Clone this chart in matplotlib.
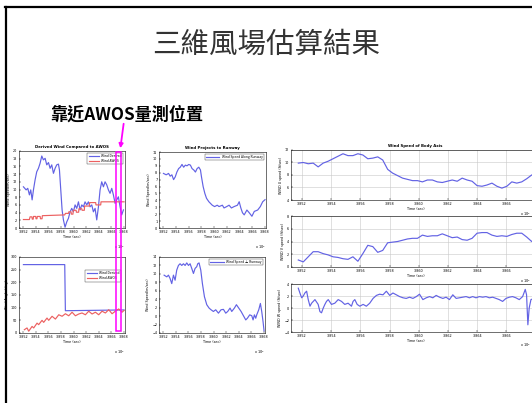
import matplotlib
matplotlib.use('Agg')
import matplotlib.pyplot as plt
from matplotlib.patches import Rectangle, FancyArrowPatch
from matplotlib.lines import Line2D
from matplotlib.transforms import blended_transform_factory
from matplotlib.ticker import FuncFormatter

plt.rcParams['font.family'] = ['Noto Sans CJK TC', 'DejaVu Sans']

# ---- derived wind vs AWOS (speed) ----
t_derived = [385205, 385248, 385274, 385300, 385321, 385343, 385364, 385390, 385416, 385443,
             385469, 385496, 385522, 385549, 385575, 385602, 385628, 385654, 385681, 385707,
             385733, 385760, 385776, 385797, 385818, 385839, 385865, 385892, 385918, 385945,
             385971, 385997, 386024, 386050, 386077, 386103, 386130, 386156, 386182, 386209,
             386235, 386261, 386288, 386314, 386341, 386367, 386394, 386420, 386446, 386473,
             386499, 386526, 386552, 386578, 386605, 386631, 386658, 386684, 386710, 386737,
             386763, 386790]
spd_derived = [10.7, 9.9, 10.3, 8.6, 9.9, 7.3, 9.9, 12.5, 14.6, 15.5,
               16.8, 18.7, 17.7, 18.1, 16.4, 17.0, 15.5, 16.4, 14.2, 15.5,
               16.4, 16.6, 15.1, 9.9, 4.7, 2.1, 0.2, 1.6, 2.5, 4.2,
               5.1, 4.2, 6.0, 5.1, 6.8, 4.7, 6.0, 5.5, 6.8, 6.0,
               6.8, 5.5, 6.0, 4.2, 5.1, 2.1, 5.5, 9.9, 12.0, 10.7,
               12.0, 11.2, 9.9, 9.0, 10.3, 8.6, 6.4, 7.3, 8.1, 5.5,
               3.4, 4.7]

t_awos = [385205, 385300, 385310, 385340, 385345, 385360, 385365, 385400, 385405, 385420,
          385425, 385470, 385475, 385500, 385505, 385860, 385870, 385920, 385925, 385960,
          385965, 385990, 385995, 386040, 386045, 386080, 386085, 386130, 386135, 386170,
          386175, 386250, 386255, 386350, 386355, 386430, 386435, 386800]
spd_awos = [2.2, 2.2, 2.9, 2.9, 2.3, 2.3, 3.0, 3.0, 2.4, 2.4,
            3.0, 3.0, 2.4, 2.4, 3.2, 3.4, 3.8, 3.8, 4.2, 4.2,
            3.6, 3.6, 4.6, 4.6, 4.1, 4.1, 5.0, 5.0, 4.6, 4.6,
            5.7, 5.7, 6.6, 6.6, 6.0, 6.0, 6.8, 6.8]

# ---- derived wind vs AWOS (direction) ----
t_dir_derived = [385205, 385860, 385870, 386800]
dir_derived = [270, 270, 88, 91]

t_dir_awos = [385220, 385262, 385289, 385342, 385368, 385421, 385447, 385500, 385526, 385579,
              385606, 385659, 385712, 385765, 385818, 385870, 385923, 385976, 386029, 386082,
              386134, 386187, 386240, 386293, 386346, 386398, 386451, 386504, 386557, 386610,
              386662, 386715, 386768, 386800]
dir_awos = [13, 20, 7, 26, 20, 39, 33, 50, 42, 59,
            50, 66, 55, 72, 66, 76, 68, 82, 68, 75,
            79, 72, 86, 75, 82, 72, 86, 79, 92, 76,
            86, 95, 82, 89]

# ---- wind projected to runway ----
t_rwy = [385205, 385248, 385285, 385311, 385337, 385364, 385390, 385416, 385443, 385469,
         385496, 385522, 385549, 385575, 385602, 385628, 385654, 385681, 385707, 385733,
         385760, 385786, 385802, 385828, 385855, 385881, 385918, 385971, 386008, 386050,
         386077, 386130, 386156, 386198, 386235, 386272, 386314, 386367, 386394, 386420,
         386446, 386473, 386515, 386552, 386594, 386631, 386684, 386726, 386763, 386800]
spd_along = [7.9, 7.7, 7.9, 7.5, 7.7, 7.0, 7.4, 8.1, 8.6, 8.8,
             9.2, 8.8, 9.1, 9.0, 9.2, 9.1, 8.6, 8.4, 8.1, 8.6,
             8.8, 8.4, 7.4, 6.0, 5.0, 4.3, 3.8, 3.3, 3.1, 3.3,
             3.1, 3.3, 2.9, 3.1, 3.3, 2.9, 3.1, 3.3, 3.8, 2.9,
             2.2, 1.9, 2.6, 2.2, 1.7, 2.4, 2.6, 3.1, 3.8, 4.1]

t_cross = [385216, 385258, 385285, 385311, 385337, 385364, 385390, 385416, 385443, 385469,
           385496, 385522, 385549, 385575, 385602, 385628, 385654, 385681, 385707, 385733,
           385749, 385770, 385797, 385823, 385855, 385892, 385929, 385960, 385997, 386034,
           386077, 386118, 386156, 386193, 386224, 386261, 386288, 386309, 386330, 386362,
           386399, 386436, 386473, 386510, 386536, 386573, 386605, 386626, 386647, 386668,
           386684, 386716, 386742, 386763, 386784, 386800]
spd_cross = [9.7, 9.3, 9.7, 8.9, 7.7, 9.7, 8.5, 10.9, 12.0, 12.4,
             12.0, 12.4, 12.0, 12.6, 12.0, 12.4, 11.3, 10.1, 11.3, 11.7,
             12.4, 12.6, 10.9, 7.7, 4.6, 2.7, 1.9, 1.5, 1.1, 1.5,
             0.7, 1.5, 1.6, 0.7, 1.1, 1.9, 1.1, 1.5, 1.9, 2.7,
             1.9, 1.1, 0.1, -0.9, -0.5, 0.3, 0.1, -0.9, 0.3, -0.5,
             0.3, 1.5, 3.0, 1.1, -1.3, -3.5]

# ---- body-axis wind components ----
t_body = [385175, 385209, 385243, 385277, 385311, 385345, 385379, 385413, 385447, 385481,
          385515, 385549, 385583, 385617, 385651, 385685, 385719, 385753, 385787, 385821,
          385855, 385889, 385923, 385957, 385991, 386025, 386059, 386093, 386127, 386161,
          386195, 386229, 386263, 386297, 386331, 386365, 386399, 386433, 386467, 386501,
          386535, 386569, 386603, 386637, 386671, 386705, 386739, 386773, 386807]
wind_u = [9.9, 10.0, 9.8, 9.9, 9.3, 9.9, 10.2, 10.6, 11.0, 11.4,
          11.1, 11.1, 11.4, 11.2, 10.6, 10.7, 10.9, 10.4, 8.9, 8.3,
          7.9, 7.5, 7.3, 7.1, 7.1, 6.9, 7.2, 7.2, 6.9, 6.8,
          7.0, 7.2, 7.0, 7.5, 7.2, 7.0, 6.3, 6.2, 6.4, 6.7,
          6.2, 5.9, 6.2, 6.9, 6.7, 6.9, 7.4, 8.0, 8.3]
wind_v = [1.1, 0.8, 1.6, 2.4, 2.4, 2.1, 1.9, 1.6, 1.5, 1.3,
          1.2, 1.6, 0.9, 2.1, 3.4, 3.2, 2.3, 2.6, 3.8, 3.9,
          4.0, 4.2, 4.4, 4.5, 4.5, 5.0, 4.8, 4.9, 4.9, 5.2,
          4.9, 4.6, 4.7, 4.3, 4.2, 4.5, 5.3, 5.4, 5.4, 5.0,
          4.8, 4.9, 4.8, 5.1, 5.3, 5.3, 4.7, 4.0, 4.6]

t_w = [385175, 385186, 385198, 385209, 385220, 385232, 385243, 385255, 385266, 385289,
       385311, 385323, 385334, 385346, 385357, 385368, 385380, 385402, 385425, 385448,
       385471, 385493, 385516, 385539, 385550, 385562, 385578, 385596, 385619, 385641,
       385664, 385687, 385710, 385732, 385755, 385778, 385801, 385823, 385846, 385869,
       385892, 385914, 385937, 385960, 385983, 386005, 386028, 386051, 386074, 386096,
       386119, 386142, 386165, 386187, 386210, 386233, 386256, 386278, 386301, 386324,
       386347, 386369, 386392, 386415, 386438, 386460, 386483, 386506, 386529, 386551,
       386574, 386597, 386620, 386642, 386665, 386688, 386711, 386729, 386738, 386747,
       386756, 386768, 386790]
wind_w = [3.3, 2.5, 1.7, 2.0, 2.5, 2.8, 1.4, 0.3, 0.8, 1.4,
          0.6, -0.6, -0.8, 0.0, 0.6, 1.1, 1.4, 0.6, 0.8, 1.4,
          1.1, 0.6, 0.8, 0.3, 1.1, 1.4, 0.6, 0.3, 0.6, 0.3,
          0.8, 1.6, 2.1, 2.3, 2.2, 2.8, 2.1, 2.5, 2.2, 1.9,
          1.7, 1.6, 1.8, 1.6, 1.9, 2.3, 1.4, 1.7, 1.9, 1.7,
          2.1, 1.8, 1.6, 1.8, 1.4, 2.2, 1.6, 1.7, 1.8, 1.9,
          1.7, 1.9, 1.7, 1.9, 1.8, 1.9, 1.7, 1.8, 1.6, 1.4,
          1.1, 1.6, 1.8, 1.9, 1.7, 1.4, 1.9, 3.1, 2.2, -2.8,
          0.0, 1.4, 1.6]

time_ticks = [385200, 385400, 385600, 385800, 386000, 386200, 386400, 386600, 386800]

BLUE = '#6262e4'
RED = '#ec6060'
MAGENTA = '#ff00ff'
SMALL = 2.4
W, H = 532, 403


def px_box(x0, y0, x1, y1):
    return [x0 / W, 1 - y1 / H, (x1 - x0) / W, (y1 - y0) / H]


def setup(ax, xlim, ylim, yticks, ylabel, title=None, grid=False, xticks=time_ticks,
          offset_at_edge=False):
    ax.set_xlim(*xlim)
    ax.set_ylim(*ylim)
    ax.set_xticks(xticks)
    ax.set_yticks(yticks)
    ax.xaxis.set_major_formatter(FuncFormatter(lambda v, p: f"{v / 1e5:.3f}"))
    ax.tick_params(direction='in', length=1.5, width=0.3, labelsize=SMALL, pad=1.2)
    for lbl in ax.get_xticklabels() + ax.get_yticklabels():
        lbl.set_family('DejaVu Sans')
    for s in ax.spines.values():
        s.set_linewidth(0.4)
    ax.set_xlabel('Time (sec)', fontsize=SMALL, labelpad=0.8, family='DejaVu Sans')
    ax.set_ylabel(ylabel, fontsize=SMALL, labelpad=1.5, family='DejaVu Sans')
    if offset_at_edge:
        # axes run past the slide edge, keep the exponent label on the slide
        tr = blended_transform_factory(fig.transFigure, ax.transAxes)
        ax.text(531 / W, -0.2, r'x 10$^5$', transform=tr, fontsize=SMALL,
                ha='right', va='top', family='DejaVu Sans')
    else:
        ax.text(1.0, -0.2, r'x 10$^5$', transform=ax.transAxes, fontsize=SMALL,
                ha='right', va='top', family='DejaVu Sans')
    if title:
        ax.set_title(title, fontsize=2.8, fontweight='bold', pad=2, family='DejaVu Sans')
    if grid:
        ax.grid(True, color='#c8c8c8', linewidth=0.4)
        ax.set_axisbelow(True)


fig = plt.figure(figsize=(W / 100, H / 100), dpi=100)
fig.patch.set_facecolor('white')

# slide frame (top and left edges)
fig.add_artist(Line2D([5 / W, 1.0], [1 - 6.5 / H, 1 - 6.5 / H], color='black', lw=1.6,
                      transform=fig.transFigure))
fig.add_artist(Line2D([6 / W, 6 / W], [0, 1 - 6.5 / H], color='black', lw=1.6,
                      transform=fig.transFigure))

fig.text(0.5, 1 - 45 / H, '三維風場估算結果', fontsize=20.5, color='#333333',
         ha='center', va='center', family=['Noto Sans CJK TC', 'DejaVu Sans'])
fig.text(50 / W, 1 - 115 / H, '靠近AWOS量測位置', fontsize=12.3, fontweight='heavy',
         color='black', ha='left', va='center', family=['Noto Sans CJK TC', 'DejaVu Sans'])

lr_xlim = (385135, 386815)
leg_kw = dict(loc='upper right', fontsize=SMALL, frameon=True, edgecolor='black',
              fancybox=False, borderpad=0.4, labelspacing=0.3)

# derived wind speed vs AWOS
ax1 = fig.add_axes(px_box(19, 151, 125, 228))
ax1.plot(t_derived, spd_derived, color=BLUE, lw=0.85, label='Wind Derived')
ax1.plot(t_awos, spd_awos, color=RED, lw=0.85, label='Wind AWOS')
setup(ax1, lr_xlim, (0, 20), range(0, 21, 2), 'Wind Speed(m/sec)',
      title='Derived Wind Compared to AWOS')
ax1.legend(handlelength=3, **leg_kw).get_frame().set_linewidth(0.3)

# derived wind direction vs AWOS
ax2 = fig.add_axes(px_box(19, 257, 125, 333))
ax2.plot(t_dir_derived, dir_derived, color=BLUE, lw=0.85, label='Wind Derived')
ax2.plot(t_dir_awos, dir_awos, color=RED, lw=0.85, label='Wind AWOS')
setup(ax2, lr_xlim, (0, 300), range(0, 301, 50), 'Wind Angle (deg)')
ax2.legend(handlelength=3, bbox_to_anchor=(0.98, 0.85), **leg_kw).get_frame().set_linewidth(0.3)

# along-runway component
ax3 = fig.add_axes(px_box(159, 152, 266, 228))
ax3.plot(t_rwy, spd_along, color=BLUE, lw=0.85, label='Wind Speed Along Runway')
setup(ax3, lr_xlim, (0, 11), range(0, 12), 'Wind Speed(m/sec)',
      title='Wind Projects to Runway')
ax3.legend(handlelength=4, **leg_kw).get_frame().set_linewidth(0.3)

# cross-runway component
ax4 = fig.add_axes(px_box(159, 257, 265, 333))
ax4.plot(t_cross, spd_cross, color=BLUE, lw=0.85, label='Wind Speed ⊥ Runway')
setup(ax4, lr_xlim, (-4, 14), range(-4, 15, 2), 'Wind Speed(m/sec)')
ax4.legend(handlelength=4, **leg_kw).get_frame().set_linewidth(0.3)

# body-axis components (right column, runs off the slide edge)
body_xlim = (385125, 386830)
body_ticks = time_ticks[:-1]
ax5 = fig.add_axes(px_box(291, 150, 540, 200))
ax5.plot(t_body, wind_u, color=BLUE, lw=0.85)
setup(ax5, body_xlim, (4, 12), range(4, 13, 2), 'WIND U speed (ft/sec)',
      title='Wind Speed of Body Axis', grid=True, xticks=body_ticks, offset_at_edge=True)

ax6 = fig.add_axes(px_box(291, 216, 540, 267))
ax6.plot(t_body, wind_v, color=BLUE, lw=0.85)
setup(ax6, body_xlim, (0, 8), range(0, 9, 2), 'WIND V speed (ft/sec)', grid=True,
      xticks=body_ticks, offset_at_edge=True)

ax7 = fig.add_axes(px_box(291, 284, 540, 332))
ax7.plot(t_w, wind_w, color=BLUE, lw=0.85)
setup(ax7, body_xlim, (-4, 4), range(-4, 5, 2), 'WIND W speed (ft/sec)', grid=True,
      xticks=body_ticks, offset_at_edge=True)

# highlight box near the AWOS site and pointer
fig.add_artist(Rectangle((116 / W, 1 - 331 / H), 5 / W, 179 / H, fill=False,
                         edgecolor=MAGENTA, lw=1.1, transform=fig.transFigure, zorder=10))
fig.add_artist(FancyArrowPatch((124 / W, 1 - 121 / H), (120 / W, 1 - 151 / H),
                               transform=fig.transFigure, arrowstyle='-|>',
                               mutation_scale=6, color=MAGENTA, lw=1.3, zorder=10))

fig.savefig('out.png', dpi=100)
